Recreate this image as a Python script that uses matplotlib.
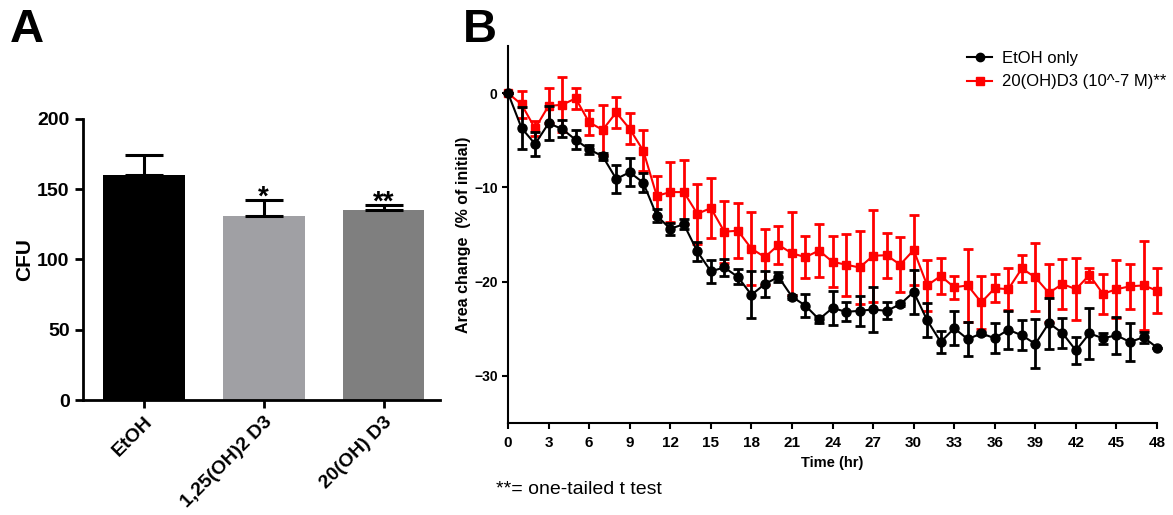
import numpy as np
import matplotlib.pyplot as plt
from matplotlib.lines import Line2D

plt.rcParams['font.family'] = ['Liberation Sans', 'DejaVu Sans']

# panel A data
groups = ["EtOH", "1,25(OH)2 D3", "20(OH) D3"]
cfu = [160, 131, 135]
cfu_err = [14, 11, 3.5]
stars = ["", "*", "**"]
bar_colors = ["#000000", "#a0a0a4", "#7f7f7f"]

# panel B data
hours = list(range(0, 49))
etoh = [0, -3.7, -5.4, -3.2, -3.8, -4.95, -5.97, -6.7, -9.1, -8.4,
        -9.5, -13.0, -14.4, -13.9, -16.8, -18.9, -18.5, -19.5, -21.4, -20.25,
        -19.5, -21.6, -22.55, -24.0, -22.8, -23.2, -23.1, -22.95, -23.1, -22.4,
        -21.1, -24.1, -26.4, -24.95, -26.1, -25.5, -26.0, -25.1, -25.7, -26.6,
        -24.4, -25.45, -27.3, -25.5, -26.0, -25.7, -26.4, -25.9, -27.0]
etoh_err = [0, 2.2, 1.3, 1.8, 0.9, 1.0, 0.5, 0.4, 1.5, 1.5,
            1.0, 0.7, 0.6, 0.5, 1.0, 1.2, 0.9, 0.8, 2.5, 1.4,
            0.5, 0.2, 1.2, 0.4, 1.8, 1.0, 1.6, 2.4, 0.9, 0.2,
            2.3, 1.8, 1.2, 1.8, 1.8, 0.2, 1.6, 2.0, 1.6, 2.6,
            2.7, 1.6, 1.4, 2.7, 0.6, 2.0, 2.0, 0.6, 0]
d3 = [0, -1.2, -3.75, -1.35, -1.24, -0.56, -3.1, -3.9, -2.05, -3.8,
      -6.1, -10.9, -10.5, -10.5, -12.8, -12.2, -14.7, -14.6, -16.5, -17.4,
      -16.1, -17.0, -17.4, -16.7, -17.9, -18.2, -18.5, -17.25, -17.2, -18.2,
      -16.65, -20.4, -19.4, -20.6, -20.4, -22.2, -20.7, -20.8, -18.6, -19.55,
      -21.2, -20.25, -20.8, -19.3, -21.3, -20.8, -20.5, -20.4, -20.95]
d3_err = [0, 1.45, 0.8, 1.85, 2.9, 1.1, 1.3, 2.65, 1.65, 1.65,
          2.2, 2.1, 3.2, 3.4, 3.2, 3.2, 3.3, 2.9, 3.9, 3.0,
          2.0, 4.4, 2.2, 2.8, 2.7, 3.3, 3.9, 4.9, 2.4, 2.9,
          3.7, 2.7, 1.9, 1.2, 3.9, 2.8, 1.5, 2.2, 1.45, 3.6,
          3.1, 2.65, 3.3, 0.7, 2.1, 3.1, 2.4, 4.7, 2.4]

fig = plt.figure(figsize=(11.73, 5.15), dpi=100)

# ---- panel A ----
axA = fig.add_axes([0.0705, 0.2233, 0.3046, 0.5457])
x = np.arange(len(groups))
axA.bar(x, cfu, width=0.68, color=bar_colors, zorder=2)
axA.errorbar(x, cfu, yerr=[[0] * len(cfu), cfu_err], fmt='none', ecolor='black',
             elinewidth=2.2, capsize=13.5, capthick=2.2, zorder=3)
for xi, v, e, s in zip(x, cfu, cfu_err, stars):
    if s:
        axA.text(xi, v + e - 7.5, s, ha='center', va='bottom', fontsize=20, fontweight='bold')
axA.set_xlim(-0.51, 2.47)
axA.set_ylim(0, 200)
axA.set_yticks([0, 50, 100, 150, 200])
axA.set_xticks(x)
axA.set_xticklabels(groups, rotation=45, ha='right', rotation_mode='anchor',
                    fontsize=14, fontweight='bold')
for lab in axA.get_yticklabels():
    lab.set_fontsize(14)
    lab.set_fontweight('bold')
axA.set_ylabel("CFU", fontsize=15, fontweight='bold', labelpad=2)
axA.spines['top'].set_visible(False)
axA.spines['right'].set_visible(False)
axA.spines['left'].set_linewidth(2)
axA.spines['bottom'].set_linewidth(2)
axA.tick_params(width=2, length=6)
fig.text(0.008, 0.985, "A", fontsize=34, fontweight='bold', va='top', ha='left')

# ---- panel B ----
axB = fig.add_axes([0.4331, 0.1786, 0.5533, 0.7321])
axB.errorbar(hours, d3, yerr=d3_err, color='red', marker='s', markersize=6,
             linewidth=1.5, elinewidth=2, capsize=3.5, capthick=2, clip_on=False, zorder=2)
axB.errorbar(hours, etoh, yerr=etoh_err, color='black', marker='o', markersize=6.5,
             linewidth=1.5, elinewidth=2, capsize=3.5, capthick=2, clip_on=False, zorder=3)
axB.set_xlim(0, 48)
axB.set_ylim(-35, 5)
axB.set_xticks(range(0, 49, 3))
axB.set_yticks([0, -10, -20, -30])
for lab in axB.get_xticklabels():
    lab.set_fontsize(11)
    lab.set_fontweight('bold')
for lab in axB.get_yticklabels():
    lab.set_fontsize(10)
    lab.set_fontweight('bold')
axB.set_xlabel("Time (hr)", fontsize=10.5, fontweight='bold', labelpad=5)
axB.set_ylabel("Area change  (% of initial)", fontsize=11.5, fontweight='bold', labelpad=2)
axB.spines['top'].set_visible(False)
axB.spines['right'].set_visible(False)
axB.spines['left'].set_linewidth(1.5)
axB.spines['bottom'].set_linewidth(1.5)
axB.tick_params(width=1.5, length=4)
axB.tick_params(axis='x', pad=5)

handles = [Line2D([], [], color='black', marker='o', markersize=6, linewidth=1.5),
           Line2D([], [], color='red', marker='s', markersize=6, linewidth=1.5)]
fig.legend(handles, ["EtOH only", "20(OH)D3 (10^-7 M)**"], loc='upper left',
           bbox_to_anchor=(0.812, 0.93), frameon=False,
           handlelength=1.5, handletextpad=0.6, labelspacing=0.5,
           prop={'size': 12})
fig.text(0.395, 0.985, "B", fontsize=34, fontweight='bold', va='top', ha='left')
fig.text(0.423, 0.05, "**= one-tailed t test", fontsize=14, va='center', ha='left')

fig.savefig("out.png", dpi=100)
